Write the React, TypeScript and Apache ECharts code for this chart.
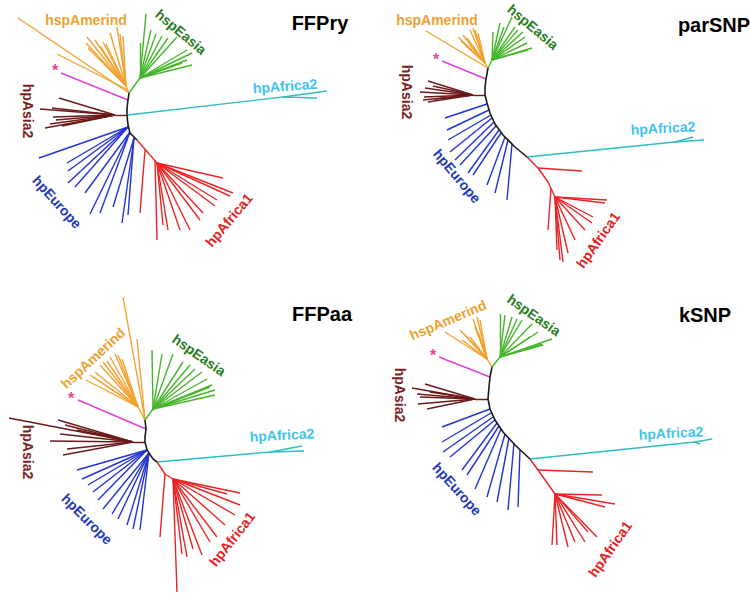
import React, { useEffect, useRef } from 'react';
import * as echarts from 'echarts';

// Each tree is drawn in a local 375x297 frame (one per panel).
// Segments are [x1, y1, x2, y2]; fan(hub, tips) builds branches from a node.
const fan = (hub: number[], tips: number[][]) => tips.map((t) => [hub[0], hub[1], t[0], t[1]]);

const panelTitles = ['FFPry', 'parSNP', 'FFPaa', 'kSNP'];
const cladeLabels = ['hspAmerind', 'hspEasia', 'hpAsia2', 'hpAfrica2', 'hpEurope', 'hpAfrica1'];

// ---------- FFPry ----------
const ffpryBackbone = [[129, 93], [128, 100], [127, 108], [127, 115], [128, 125], [130, 133], [134, 137], [137, 140]];
const ffpryAmerind = [
  [129, 93, 126, 86], [129, 93, 18, 18], [128, 90, 57, 54],
  ...fan([126, 86], [[87, 37], [86, 43], [88, 48], [95, 40], [100, 46], [103, 42], [110, 33], [117, 27], [120, 34], [123, 36], [106, 44]]),
];
const ffpryEasia = [
  [129, 93, 140, 78],
  ...fan([140, 78], [[146, 14], [140, 43], [151, 30], [156, 34], [162, 36], [168, 38], [177, 37], [187, 50], [192, 53], [187, 60], [192, 65], [182, 63]]),
];
const ffpryPink = [[128, 100, 61, 73]];
const ffpryAsia2 = [
  [127, 115, 115, 115],
  ...fan([115, 115], [[59, 98], [40, 109], [52, 108], [53, 117], [56, 120], [50, 124], [45, 128], [62, 126]]),
];
const ffpryAfrica2 = [[128, 115, 283, 97], [283, 97, 327, 91], [283, 97, 317, 98]];
const ffpryEurope = [
  ...fan([128, 127], [[39, 158], [67, 163], [68, 171], [68, 183], [75, 187]]),
  ...fan([130, 132], [[85, 193], [90, 214], [100, 213]]),
  ...fan([134, 138], [[113, 207], [122, 223], [128, 215]]),
];
const ffpryAfrica1 = [
  [137, 140, 150, 155], [150, 155, 157, 163], [145, 150, 140, 213], [155, 160, 157, 240],
  ...fan([157, 163], [[223, 178], [233, 193], [230, 196], [217, 200], [215, 206], [203, 213], [200, 220], [190, 230], [180, 230], [168, 230], [163, 225]]),
];

// ---------- parSNP ----------
const parsnpBackbone = [[113, 68], [111, 79], [110, 88], [110, 95], [112, 103], [115, 113], [120, 124], [128, 135], [140, 147], [152, 157]];
const parsnpAmerind = [
  [113, 68, 51, 31], [113, 68, 110, 63],
  ...fan([110, 63], [[83, 37], [86, 41], [88, 35], [92, 38], [95, 30], [98, 28], [100, 30], [103, 33], [90, 45], [95, 45]]),
];
const parsnpEasia = [
  [113, 68, 117, 60],
  ...fan([117, 60], [[118, 32], [125, 23], [129, 27], [137, 17], [140, 27], [143, 30], [148, 32], [150, 37], [152, 43], [157, 48], [153, 50]]),
];
const parsnpPink = [[111, 79, 67, 61]];
const parsnpAsia2 = [
  [110, 95, 98, 95],
  ...fan([98, 95], [[53, 81], [45, 92], [50, 88], [49, 97], [48, 100], [53, 102], [60, 99], [58, 86]]),
];
const parsnpAfrica2 = [[152, 157, 300, 142], [300, 142, 329, 140], [300, 142, 318, 137]];
const parsnpEurope = [
  [112, 104, 70, 118], [114, 110, 72, 130], [116, 115, 73, 140], [117, 118, 75, 152],
  [119, 122, 80, 160], [121, 126, 85, 165], [124, 130, 93, 173], [126, 133, 98, 175],
  [130, 137, 112, 185], [133, 140, 120, 193], [137, 144, 132, 200],
];
const parsnpAfrica1 = [
  [152, 157, 163, 168], [163, 168, 207, 171], [163, 168, 173, 182], [173, 182, 180, 197], [176, 188, 173, 230],
  ...fan([180, 197], [[232, 200], [230, 203], [218, 217], [217, 223], [210, 230], [200, 240], [193, 253], [188, 262], [185, 260], [182, 250]]),
];

// ---------- FFPaa ----------
const ffpaaBackbone = [[145, 123], [146, 132], [145, 140], [145, 145], [147, 153], [153, 162], [157, 165]];
const ffpaaAmerind = [
  [145, 123, 123, 0], [145, 123, 137, 42], [145, 123, 138, 110],
  ...fan([138, 110], [[86, 83], [90, 78], [95, 75], [103, 65], [110, 60], [115, 57], [118, 58], [122, 62], [100, 68], [107, 64], [93, 80]]),
];
const ffpaaEasia = [
  [145, 123, 153, 112],
  ...fan([153, 112], [[152, 53], [162, 57], [173, 57], [183, 65], [190, 68], [195, 72], [202, 75], [207, 82], [212, 88], [215, 93], [215, 98], [210, 90]]),
];
const ffpaaPink = [[146, 132, 78, 103]];
const ffpaaAsia2 = [
  [145, 145, 133, 145],
  ...fan([133, 145], [[9, 121], [58, 123], [60, 137], [50, 144], [67, 152], [63, 158], [77, 133], [65, 128]]),
];
const ffpaaAfrica2 = [[157, 165, 270, 155], [270, 155, 302, 149], [270, 155, 304, 154]];
const ffpaaEurope = [
  ...fan([147, 153], [[77, 173], [82, 182], [88, 188], [93, 195], [98, 203]]),
  ...fan([149, 156], [[103, 212], [112, 217], [118, 222], [127, 228], [133, 232], [140, 233]]),
];
const ffpaaAfrica1 = [
  [157, 165, 165, 177], [165, 177, 173, 182], [165, 177, 160, 240], [173, 182, 177, 295],
  ...fan([173, 182], [[240, 196], [240, 208], [235, 218], [227, 197], [217, 240], [202, 258], [193, 252], [187, 260], [182, 257], [210, 245], [225, 228]]),
];

// ---------- kSNP ----------
const ksnpBackbone = [[117, 70], [115, 80], [114, 90], [113, 102], [115, 112], [120, 123], [128, 135], [140, 148], [155, 162]];
const ksnpAmerind = [
  [117, 70, 112, 62],
  ...fan([112, 62], [[70, 35], [85, 33], [90, 38], [98, 22], [102, 20], [105, 23], [87, 43], [95, 40], [100, 30], [103, 35]]),
];
const ksnpEasia = [
  [117, 70, 125, 60],
  ...fan([125, 60], [[125, 17], [130, 18], [137, 20], [142, 22], [147, 23], [157, 27], [163, 35], [167, 47], [177, 42], [168, 48], [155, 40]]),
];
const ksnpPink = [[115, 80, 64, 60]];
const ksnpAsia2 = [
  [113, 102, 100, 102],
  ...fan([100, 102], [[37, 91], [50, 87], [42, 97], [43, 107], [52, 112], [45, 100], [55, 95]]),
];
const ksnpAfrica2 = [[155, 162, 320, 145], [320, 145, 337, 142], [320, 145, 325, 147]];
const ksnpEurope = [
  [115, 112, 67, 130], [116, 116, 67, 145], [118, 120, 68, 155], [120, 123, 75, 160],
  [122, 126, 87, 173], [124, 129, 92, 178], [126, 132, 100, 192], [130, 137, 112, 200],
  [134, 141, 122, 205], [139, 146, 133, 213], [145, 152, 143, 210],
];
const ksnpAfrica1 = [
  [155, 162, 163, 173], [163, 173, 218, 175], [163, 173, 180, 197],
  ...fan([180, 197], [[227, 198], [240, 207], [230, 210], [222, 240], [210, 245], [193, 250], [182, 248], [177, 248], [213, 235], [200, 245]]),
];

const panelData = [
  { backbone: ffpryBackbone, clades: [ffpryAmerind, ffpryEasia, ffpryPink, ffpryAsia2, ffpryAfrica2, ffpryEurope, ffpryAfrica1] },
  { backbone: parsnpBackbone, clades: [parsnpAmerind, parsnpEasia, parsnpPink, parsnpAsia2, parsnpAfrica2, parsnpEurope, parsnpAfrica1] },
  { backbone: ffpaaBackbone, clades: [ffpaaAmerind, ffpaaEasia, ffpaaPink, ffpaaAsia2, ffpaaAfrica2, ffpaaEurope, ffpaaAfrica1] },
  { backbone: ksnpBackbone, clades: [ksnpAmerind, ksnpEasia, ksnpPink, ksnpAsia2, ksnpAfrica2, ksnpEurope, ksnpAfrica1] },
];

const lineColors = ['#F2A230', '#46B52C', '#E040D8', '#6B1919', '#2DBEC0', '#2233D4', '#EA2424'];
const labelColors = ['#F0A030', '#2A7D1E', '#7A1E1E', '#3EC3EE', '#2238B8', '#E32222'];

// label layout per panel: [x, y, rotationDeg] for each clade label, then star, then title
const labelLayout = [
  { labels: [[86, 20, 0], [181, 32, -40], [28, 111, -90], [285, 86, 4], [57, 202, -48], [229, 220, 50]], star: [55, 70], title: [320, 23] },
  { labels: [[62, 20, 0], [158, 27, -40], [32, 92, -90], [288, 128, 3], [82, 176, -50], [223, 240, 55]], star: [61, 59], title: [339, 25] },
  { labels: [[93, 61, 43], [199, 58, -35], [28, 155, -90], [282, 138, 3], [87, 222, -45], [232, 242, 52]], star: [71, 101], title: [322, 17] },
  { labels: [[73, 23, 23], [159, 18, -35], [25, 98, -90], [296, 136, 3], [82, 192, -48], [235, 252, 55]], star: [58, 58], title: [330, 18] },
];

const offsets = [[0, 0], [375, 0], [0, 297], [375, 297]];

export default function App() {
  const ref = useRef<HTMLDivElement>(null);
  useEffect(() => {
    if (!ref.current) return;
    const chart = echarts.init(ref.current, undefined, { renderer: 'svg' });
    const grid: any[] = [];
    const xAxis: any[] = [];
    const yAxis: any[] = [];
    const series: any[] = [];
    const graphic: any[] = [];
    const font = '"Liberation Sans", Arial, sans-serif';

    panelData.forEach((p, i) => {
      const [ox, oy] = offsets[i];
      grid.push({ left: ox, top: oy, width: 375, height: 297 });
      xAxis.push({ type: 'value', gridIndex: i, min: 0, max: 375, show: false });
      yAxis.push({ type: 'value', gridIndex: i, min: 0, max: 297, inverse: true, show: false });
      p.clades.forEach((segs, c) => {
        series.push({
          type: 'lines',
          coordinateSystem: 'cartesian2d',
          xAxisIndex: i,
          yAxisIndex: i,
          silent: true,
          lineStyle: { color: lineColors[c], width: 1.4, opacity: 1 },
          data: segs.map((s) => ({ coords: [[s[0], s[1]], [s[2], s[3]]] })),
        });
      });
      series.push({
        type: 'lines',
        coordinateSystem: 'cartesian2d',
        xAxisIndex: i,
        yAxisIndex: i,
        polyline: true,
        silent: true,
        lineStyle: { color: '#1a1a1a', width: 1.6, opacity: 1 },
        data: [{ coords: p.backbone }],
      });
      const L = labelLayout[i];
      L.labels.forEach((l, c) => {
        graphic.push({
          type: 'text',
          x: ox + l[0],
          y: oy + l[1],
          rotation: (l[2] * Math.PI) / 180,
          style: {
            text: cladeLabels[c],
            fill: labelColors[c],
            font: `bold 14px ${font}`,
            textAlign: 'center',
            textVerticalAlign: 'middle',
          },
        });
      });
      graphic.push({
        type: 'text',
        x: ox + L.star[0],
        y: oy + L.star[1],
        style: { text: '*', fill: '#E8468C', font: `bold 16px ${font}`, textAlign: 'center', textVerticalAlign: 'middle' },
      });
      graphic.push({
        type: 'text',
        x: ox + L.title[0],
        y: oy + L.title[1],
        style: { text: panelTitles[i], fill: '#000', font: `bold 20px ${font}`, textAlign: 'center', textVerticalAlign: 'middle' },
      });
    });

    chart.setOption({
      animation: false,
      backgroundColor: '#ffffff',
      grid,
      xAxis,
      yAxis,
      series,
      graphic,
    });
    return () => chart.dispose();
  }, []);
  return <div ref={ref} style={{ position: 'fixed', left: 0, top: 0, width: 750, height: 594 }} />;
}
